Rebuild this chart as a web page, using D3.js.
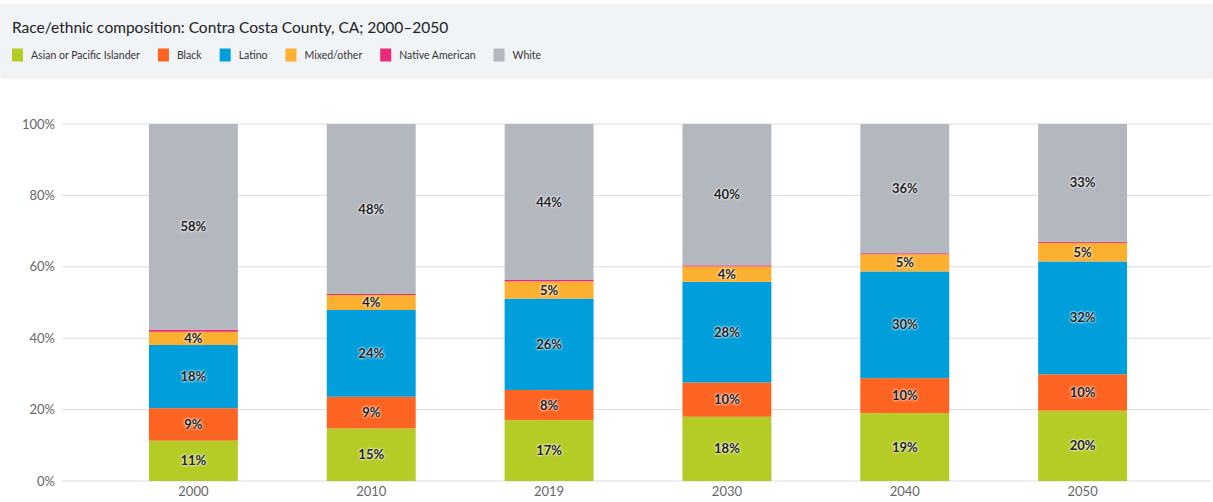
<!DOCTYPE html>
<html>
<head>
<meta charset="utf-8">
<script src="https://cdn.jsdelivr.net/npm/d3@7"></script>
<style>
  html, body { margin: 0; padding: 0; background: #fff; }
  svg { display: block; font-family: Lato, "Noto Sans", sans-serif; }
  .seglabel { text-shadow: 0 0 3px #fff, 0 0 2px #fff; }
</style>
</head>
<body>
<svg id="chart" width="1213" height="502"></svg>
<script>
const title = "Race/ethnic composition: Contra Costa County, CA; 2000–2050";
const years = ["2000", "2010", "2019", "2030", "2040", "2050"];
const seriesNames = ["Asian or Pacific Islander", "Black", "Latino", "Mixed/other", "Native American", "White"];
const seriesColors = ["#b5cc27", "#fe6421", "#009fdb", "#fbb02f", "#ea2a78", "#b3b7be"];
const asian  = [11.3, 14.7, 17.1, 18.0, 19.0, 19.7];
const black  = [9.1, 8.9, 8.4, 9.6, 9.8, 10.2];
const latino = [17.7, 24.3, 25.6, 28.2, 29.9, 31.6];
const mixed  = [3.7, 4.2, 4.8, 4.3, 4.8, 5.2];
const native = [0.6, 0.3, 0.4, 0.3, 0.3, 0.3];
const white  = [57.6, 47.6, 43.7, 39.6, 36.2, 33.0];
const yTicks = [0, 20, 40, 60, 80, 100];

const seriesValues = [asian, black, latino, mixed, native, white];
const rows = years.map((y, i) => {
  const r = { year: y };
  seriesNames.forEach((s, k) => r[s] = seriesValues[k][i]);
  return r;
});

const svg = d3.select("#chart");
const W = 1213, H = 502;

// header panel
const defs = svg.append("defs");
const f = defs.append("filter").attr("id", "shadow").attr("x", "-5%").attr("y", "-20%").attr("width", "110%").attr("height", "150%");
f.append("feDropShadow").attr("dx", 0).attr("dy", 2).attr("stdDeviation", 1.5).attr("flood-color", "#000").attr("flood-opacity", 0.08);
svg.append("rect").attr("x", 0).attr("y", 4).attr("width", W).attr("height", 72)
  .attr("fill", "#f1f4f7").attr("filter", "url(#shadow)");

svg.append("text").attr("x", 12).attr("y", 33).text(title)
  .attr("font-size", 15.5).attr("fill", "#222");

// legend
const legend = svg.append("g").attr("transform", "translate(12,55)");
let lx = 0;
seriesNames.forEach((s, k) => {
  const g = legend.append("g").attr("transform", `translate(${lx},0)`);
  g.append("rect").attr("x", 0).attr("y", -6.5).attr("width", 11).attr("height", 13).attr("fill", seriesColors[k]);
  const t = g.append("text").attr("x", 19).attr("y", 4).text(s).attr("font-size", 10.5).attr("fill", "#333");
  const w = t.node().getComputedTextLength();
  lx += 19 + w + 18;
});

const x = d3.scaleBand().domain(years).range([60, 1216]).padding(0.5);
const y = d3.scaleLinear().domain([0, 100]).range([481, 124]);

// grid
const grid = svg.append("g");
grid.selectAll("line").data(yTicks).join("line")
  .attr("x1", 62).attr("x2", W - 2)
  .attr("y1", d => y(d)).attr("y2", d => y(d))
  .attr("stroke", "#dcdcdc").attr("stroke-width", 1);

// y axis labels
const yAxis = d3.axisLeft(y).tickValues(yTicks).tickFormat(d => d + "%").tickSize(0).tickPadding(0);
const ya = svg.append("g").attr("transform", "translate(55,0)").call(yAxis);
ya.select(".domain").remove();
ya.selectAll("text").attr("font-size", 13).attr("fill", "#666").attr("font-family", "Lato, sans-serif");

// x axis labels
const xAxis = d3.axisBottom(x).tickSize(0).tickPadding(6);
const xa = svg.append("g").attr("transform", "translate(0,481)").call(xAxis);
xa.select(".domain").remove();
xa.selectAll("text").attr("font-size", 13).attr("fill", "#666").attr("font-family", "Lato, sans-serif");

// stacks
const stack = d3.stack().keys(seriesNames);
const layers = stack(rows);
const lg = svg.append("g");
layers.forEach((layer, k) => {
  lg.append("g").attr("fill", seriesColors[k])
    .selectAll("rect").data(layer).join("rect")
    .attr("x", d => x(d.data.year))
    .attr("width", x.bandwidth())
    .attr("y", d => y(d[1]))
    .attr("height", d => y(d[0]) - y(d[1]));
});

// labels
const labG = svg.append("g");
layers.forEach((layer, k) => {
  if (seriesNames[k] === "Native American") return;
  labG.selectAll(null).data(layer).join("text")
    .attr("class", "seglabel")
    .attr("x", d => x(d.data.year) + x.bandwidth() / 2)
    .attr("y", d => (y(d[0]) + y(d[1])) / 2)
    .attr("dy", "0.35em")
    .attr("text-anchor", "middle")
    .attr("font-size", 13).attr("font-weight", 700).attr("fill", "#1c1c1c")
    .text(d => Math.round(d[1] - d[0]) + "%");
});
</script>
</body>
</html>
